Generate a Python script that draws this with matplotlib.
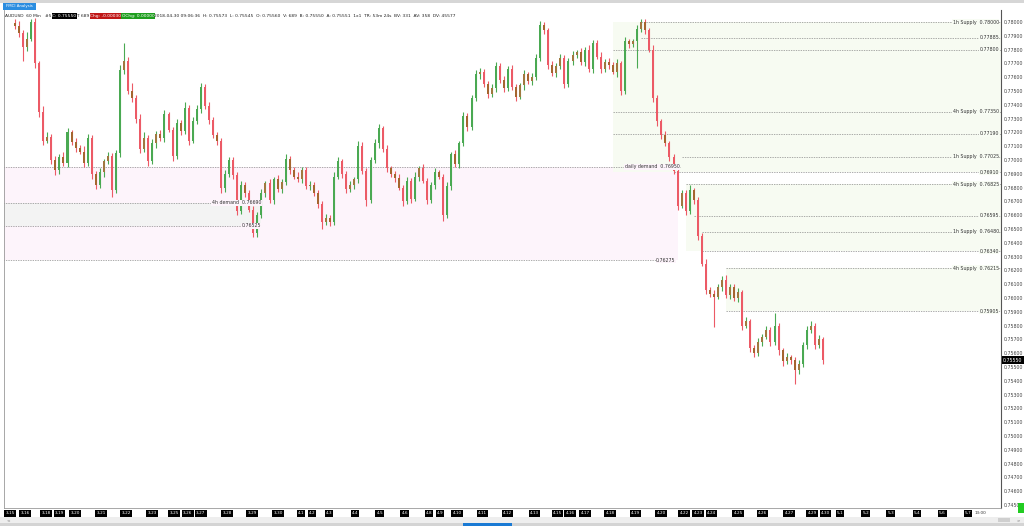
import matplotlib.pyplot as plt
import matplotlib.transforms as mtransforms
from matplotlib.patches import Rectangle
import numpy as np

# AUDUSD 60 min, aggregated candles, prices in pips (0.0001)
first_open = 7799
closes = [7797, 7792, 7782, 7788, 7800, 7770, 7735, 7714, 7717, 7700,
          7693, 7702, 7698, 7720, 7713, 7709, 7706, 7698, 7716, 7690,
          7682, 7691, 7699, 7703, 7678, 7705, 7765, 7772, 7750, 7745,
          7730, 7708, 7716, 7699, 7712, 7719, 7716, 7733, 7722, 7703,
          7727, 7721, 7738, 7714, 7728, 7737, 7753, 7739, 7729, 7718,
          7714, 7680, 7690, 7700, 7689, 7663, 7682, 7676, 7664, 7647,
          7660, 7676, 7683, 7671, 7686, 7679, 7684, 7701, 7693, 7688,
          7686, 7693, 7681, 7682, 7676, 7668, 7655, 7658, 7655, 7688,
          7699, 7690, 7679, 7682, 7686, 7710, 7692, 7671, 7700, 7712,
          7723, 7708, 7694, 7690, 7687, 7680, 7670, 7685, 7672, 7688,
          7694, 7685, 7671, 7682, 7691, 7688, 7660, 7681, 7704, 7697,
          7712, 7732, 7724, 7745, 7762, 7764, 7755, 7748, 7752, 7768,
          7758, 7752, 7766, 7753, 7746, 7754, 7762, 7757, 7760, 7774,
          7798, 7794, 7769, 7763, 7768, 7774, 7755, 7772, 7776, 7778,
          7771, 7780, 7766, 7785, 7775, 7766, 7771, 7769, 7764, 7770,
          7750, 7786, 7784, 7786, 7795, 7800, 7794, 7780, 7745, 7728,
          7718, 7712, 7702, 7692, 7667, 7676, 7663, 7678, 7671, 7645,
          7625, 7606, 7603, 7601, 7608, 7613, 7602, 7608, 7600, 7604,
          7580, 7583, 7564, 7560, 7568, 7572, 7577, 7568, 7580, 7562,
          7554, 7557, 7555, 7548, 7552, 7566, 7577, 7580, 7566, 7570,
          7555]
wick_up = [3, 4, 2, 5, 2, 3, 2, 4, 3, 2, 3, 2, 4, 3, 2, 3, 2, 4, 3, 2,
           2, 3, 2, 3, 2, 2, 4, 13, 3, 6, 2, 3, 4, 2, 3, 2, 3, 3, 2, 2,
           3, 2, 4, 2, 3, 3, 3, 2, 3, 2, 2, 2, 3, 2, 2, 2, 3, 2, 2, 3,
           2, 3, 2, 3, 2, 3, 2, 3, 2, 2, 3, 2, 2, 3, 2, 2, 2, 3, 2, 3,
           3, 2, 2, 3, 2, 4, 3, 2, 2, 3, 3, 2, 3, 2, 2, 3, 2, 3, 2, 3,
           2, 3, 2, 2, 3, 2, 2, 3, 2, 3, 2, 3, 2, 2, 3, 3, 2, 2, 3, 3,
           2, 3, 2, 3, 2, 2, 3, 2, 3, 3, 3, 2, 2, 3, 2, 3, 2, 2, 3, 2,
           3, 2, 3, 2, 2, 3, 2, 3, 2, 3, 2, 3, 2, 2, 3, 2, 2, 2, 3, 2,
           2, 3, 2, 2, 3, 2, 2, 4, 2, 2, 2, 3, 2, 3, 2, 3, 4, 2, 2, 3,
           2, 3, 2, 2, 3, 2, 3, 2, 9, 2, 2, 3, 2, 2, 3, 2, 3, 3, 2, 3, 2]
wick_dn = [2, 3, 10, 3, 2, 3, 4, 3, 2, 3, 4, 3, 2, 3, 2, 3, 2, 3, 2, 4,
           3, 2, 3, 2, 5, 2, 3, 3, 2, 3, 3, 3, 2, 3, 2, 3, 2, 3, 2, 4,
           2, 3, 2, 3, 2, 2, 3, 2, 3, 2, 3, 4, 3, 2, 3, 3, 2, 3, 2, 3,
           3, 2, 3, 2, 3, 2, 3, 2, 3, 2, 2, 3, 2, 3, 2, 3, 5, 2, 3, 2,
           2, 3, 3, 2, 3, 3, 2, 4, 2, 2, 3, 2, 3, 2, 3, 2, 3, 2, 3, 2,
           3, 2, 3, 2, 3, 2, 4, 2, 3, 2, 3, 2, 3, 2, 2, 3, 2, 3, 2, 3,
           2, 3, 2, 2, 3, 2, 3, 2, 3, 2, 2, 3, 3, 2, 3, 2, 3, 2, 3, 2,
           2, 3, 2, 3, 2, 3, 2, 3, 2, 4, 3, 2, 3, 2, 19, 2, 3, 2, 3, 3,
           3, 2, 3, 2, 3, 2, 3, 2, 3, 3, 2, 3, 2, 22, 2, 3, 2, 3, 2, 3,
           3, 2, 3, 3, 2, 3, 2, 3, 2, 3, 3, 2, 3, 10, 3, 2, 3, 2, 3, 2, 3]

# supply levels (right side) and demand levels (left side)
supply_px = [0.78000, 0.77885, 0.77800, 0.77350, 0.77190, 0.77025, 0.76910,
             0.76825, 0.76595, 0.76480, 0.76340, 0.76215, 0.75905]
supply_name = ['1h Supply', '', '', '4h Supply', '', '1h Supply', '',
               '4h Supply', '', '1h Supply', '', '4h Supply', '']
supply_from = [155, 155, 148, 148, 148, 165, 163, 166, 168, 170, 170, 176, 176]

demand_px = [0.76950, 0.76690, 0.76525, 0.76275]
demand_name = ['daily demand', '4h demand', '', '']
demand_to = [164.5, 61, 61, 163.5]

# shaded zones: (low, high, from, to)
zone_lo = [0.76275, 0.76525, 0.76910, 0.76340, 0.75905]
zone_hi = [0.76950, 0.76690, 0.78000, 0.76825, 0.76215]
zone_from = [-3, -3, 148, 166, 176]
zone_to = [164, 61, 250, 250, 250]
zone_col = ['#fdf4fb', '#f3f3f3', '#f7fbf2', '#f7fbf2', '#f7fbf2']

date_lbl = ['3-15', '3-16', '3-18', '3-19', '3-20', '3-21', '3-22', '3-23',
            '3-25', '3-26', '3-27', '3-28', '3-29', '3-30', '4-1', '4-2',
            '4-3', '4-4', '4-5', '4-6', '4-8', '4-9', '4-10', '4-11', '4-12',
            '4-13', '4-15', '4-16', '4-17', '4-18', '4-19', '4-20', '4-22',
            '4-23', '4-24', '4-25', '4-26', '4-27', '4-29', '4-30', '5-1',
            '5-2', '5-3', '5-4', '5-6', '5-7']
date_pos = [-1.2, 2.5, 7.7, 11.1, 14.9, 21.3, 27.5, 33.9, 39.4, 42.8, 46.0,
            52.5, 58.7, 65.1, 70.8, 73.5, 77.7, 84.2, 90.3, 96.5, 102.5,
            105.2, 109.4, 115.8, 122.0, 128.5, 134.2, 137.4, 141.1, 147.3,
            153.5, 159.9, 165.6, 169.1, 172.5, 179.0, 185.1, 191.6, 197.3,
            200.7, 204.2, 210.6, 216.8, 223.3, 229.5, 235.9]

c = np.array(closes) / 10000.0
o = np.concatenate([[first_open], closes[:-1]]) / 10000.0
h = np.maximum(o, c) + np.array(wick_up) / 10000.0
l = np.minimum(o, c) - np.array(wick_dn) / 10000.0
x = np.arange(len(c))
down = c < o

fig = plt.figure(figsize=(10.24, 5.26), dpi=100)
ax = fig.add_axes([4 / 1024, 18 / 526, 997 / 1024, 498 / 526])
ax.set_xlim(-2.72, 244.06)
ax.set_ylim(0.744783, 0.780870)

for lo, hi, x0, x1, col in zip(zone_lo, zone_hi, zone_from, zone_to, zone_col):
    ax.fill_between([x0, x1], lo, hi, color=col, lw=0, zorder=0)

tr = mtransforms.blended_transform_factory(ax.transAxes, ax.transData)
fs = 3.4
for p, nm, x0 in zip(supply_px, supply_name, supply_from):
    ax.plot([x0, 246], [p, p], ls=(0, (2, 1.5)), color='#8c8c8c', lw=0.5, zorder=1)
    txt = (nm + '  ' if nm else '') + '%.5f' % p
    ax.text(0.998, p, txt, transform=tr, ha='right', va='center', fontsize=fs,
            color='#333333', zorder=4,
            bbox=dict(boxstyle='square,pad=0.1', fc='#f8fcf4', ec='none'))
for p, nm, x1 in zip(demand_px, demand_name, demand_to):
    ax.plot([-3, x1], [p, p], ls=(0, (2, 1.5)), color='#8c8c8c', lw=0.5, zorder=1)
    txt = (nm + '  ' if nm else '') + '%.5f' % p
    ax.text(x1, p, txt, ha='right', va='center', fontsize=fs, color='#333333',
            zorder=4, bbox=dict(boxstyle='square,pad=0.1', fc='#fdf4fb', ec='none'))

# candles: long bodies keep the trend colour, small ones are brown
wick_col = np.where(down, '#ec5a66', '#4aa952')
ax.vlines(x, l, h, colors=wick_col, lw=0.8, zorder=2)
big = np.abs(c - o) >= 0.0009
body_col = np.where(big, wick_col, np.where(down, '#a5652f', '#a0783f'))
ax.bar(x, np.maximum(np.abs(c - o), 0.00002), bottom=np.minimum(o, c),
       width=0.5, color=body_col, lw=0, zorder=3)

# price axis on the right
ax.yaxis.tick_right()
yt = np.arange(0.745, 0.78001, 0.001)
ax.set_yticks(yt)
ax.set_yticklabels(['%.5f' % v for v in yt])
ax.tick_params(axis='y', length=0, pad=2, labelsize=fs, labelcolor='#444444')
ax.set_xticks([])
ax.spines['top'].set_visible(False)
ax.spines['right'].set_color('#555555')
ax.spines['right'].set_linewidth(0.8)
ax.spines['left'].set_color('#999999')
ax.spines['bottom'].set_color('#999999')
ax.spines['left'].set_linewidth(0.6)
ax.spines['bottom'].set_linewidth(0.6)

ax.text(1.002, c[-1], '%.5f' % c[-1], transform=tr, ha='left', va='center',
        fontsize=fs, color='white', clip_on=False, zorder=6,
        bbox=dict(boxstyle='square,pad=0.25', fc='black', ec='none'))

# date labels under the chart
trx = mtransforms.blended_transform_factory(ax.transData, ax.transAxes)
for lb, p in zip(date_lbl, date_pos):
    ax.text(p, -0.007, lb, transform=trx, ha='center', va='top', fontsize=3,
            color='white', clip_on=False,
            bbox=dict(boxstyle='square,pad=0.25', fc='black', ec='none'))
ax.text(239.1, -0.007, '13:00', transform=trx, ha='center', va='top',
        fontsize=3, color='#333333', clip_on=False)

# window chrome in pixel coordinates
ui = fig.add_axes([0, 0, 1, 1], zorder=5)
ui.set_xlim(0, 1024)
ui.set_ylim(526, 0)
ui.axis('off')
ui.patch.set_alpha(0)
ui.add_patch(Rectangle((0, 0), 1024, 2.5, fc='#d6d6d6', ec='none'))
ui.add_patch(Rectangle((3, 2.5), 33, 7.5, fc='#2b8de0', ec='none'))
ui.text(19.5, 6.4, 'FMCI Analysis', ha='center', va='center', fontsize=2.8, color='white')
ui.add_patch(Rectangle((0, 516.5), 1024, 6.5, fc='#eeeeee', ec='none'))
ui.add_patch(Rectangle((998, 517.5), 12, 4.5, fc='#cfcfcf', ec='none'))
ui.text(8, 519.8, '<', ha='center', va='center', fontsize=3, color='#666666')
ui.text(1018, 519.8, '>', ha='center', va='center', fontsize=3, color='#666666')
ui.add_patch(Rectangle((0, 523), 1024, 3, fc='#d4d4d4', ec='none'))
ui.add_patch(Rectangle((463, 523), 49, 3, fc='#1a7ad4', ec='none'))
ui.add_patch(Rectangle((1018, 503), 6, 10, fc='#22cc22', ec='none'))

# header line
hy = 16
ui.text(5, hy, 'AUDUSD  60 Min   #5', va='center', fontsize=3.2, color='#222222')
ui.text(52.5, hy, 'C: 0.75550', va='center', fontsize=3.2, color='white',
        bbox=dict(boxstyle='square,pad=0.15', fc='black', ec='none'))
ui.text(76.5, hy, 'T: 689', va='center', fontsize=3.2, color='#222222')
ui.text(90.5, hy, 'Chg: -0.00030', va='center', fontsize=3.2, color='white',
        bbox=dict(boxstyle='square,pad=0.15', fc='#c01818', ec='none'))
ui.text(121.5, hy, 'OChg: 0.00000', va='center', fontsize=3.2, color='white',
        bbox=dict(boxstyle='square,pad=0.15', fc='#1e9e1e', ec='none'))
ui.text(154.5, hy, '2018-04-30 09:06:36  H: 0.75573  L: 0.75545  O: 0.75560  V: 689  '
        'B: 0.75550  A: 0.75551  1x1  TR: 53m 24s  BV: 331  AV: 358  DV: 45577',
        va='center', fontsize=3.2, color='#222222')

fig.savefig('out.png', dpi=100)
